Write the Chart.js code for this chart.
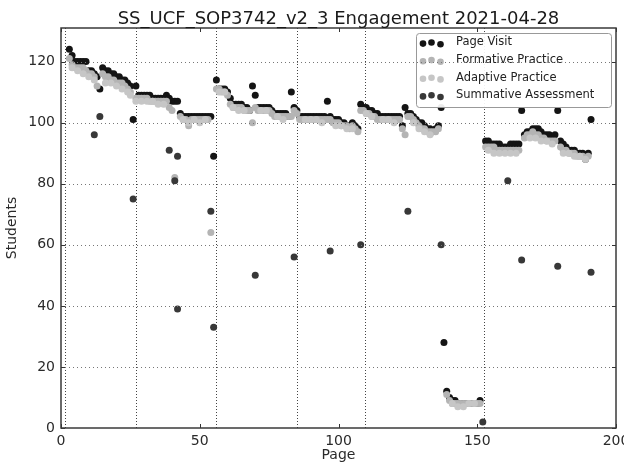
<!DOCTYPE html>
<html>
<head>
<meta charset="utf-8">
<script src="https://cdn.jsdelivr.net/npm/chart.js@4.4.0/dist/chart.umd.min.js"></script>
<style>
  html, body { margin: 0; padding: 0; background: #fff; }
</style>
</head>
<body>
<canvas id="c" width="624" height="467"></canvas>
<script>
// Engagement per page.

const chartTitle = 'SS_UCF_SOP3742_v2_3 Engagement 2021-04-28';
const xLabel = 'Page';
const yLabel = 'Students';
const xTicks = [0, 50, 100, 150, 200];
const yTicks = [0, 20, 40, 60, 80, 100, 120];
// chapter boundaries (dotted vertical lines)
const dividerPages = [1.6, 26.9, 55.8, 85, 109.6, 152.5];

const seriesNames = ['Page Visit', 'Formative Practice', 'Adaptive Practice', 'Summative Assessment'];
const seriesColors = ['#141414', '#b4b4b4', '#c6c6c6', '#383838'];

// page visits, one value per page starting at page 3
const pageVisitFirst = 3;
const pageVisit = [
  124, 122, 120, 120, 120, 120, 120, 117, 117, 116,
  115, 111, 118, 117, 117, 116, 116, 115, 115, 114,
  114, 113, 112, 101, 112, 109, 109, 109, 109, 109,
  108, 108, 108, 108, 108, 109, 108, 107, 107, 107,
  103, 102, 102, 102, 102, 102, 102, 102, 102, 102,
  102, 102, 89, 114, 111, 111, 111, 110, 108, 106,
  106, 106, 106, 105, 105, 104, 112, 109, 105, 105,
  105, 105, 105, 104, 103, 103, 103, 103, 103, 102,
  110, 105, 104, 102, 102, 102, 102, 102, 102, 102,
  102, 102, 102, 107, 102, 101, 101, 101, 100, 100,
  99, 99, 100, 99, 98, 106, 105, 105, 104, 104,
  103, 103, 102, 102, 102, 102, 102, 102, 102, 102,
  99, 105, 103, 103, 102, 101, 100, 100, 99, 98,
  98, 97, 98, 99, 105, 28, 12, 10, 9, 9,
  8, 8, 8, 8, 8, 8, 8, 8, 9, null,
  94, 94, 93, 93, 93, 93, 92, 92, 92, 93,
  93, 93, 93, 104, 96, 97, 97, 98, 98, 98,
  97, 96, 96, 96, 95, 96, 104, 94, 93, 92,
  91, 91, 91, 90, 90, 90, 88, 90, 101
];

// formative practice, starting at page 3
const formativeFirst = 3;
const formative = [
  121, 119, 118, 118, 118, 118, 117, 116, 116, 115,
  112, null, 116, 115, 115, 114, 114, 113, 113, 113,
  112, 111, 110, null, 108, 108, 108, 108, 108, 107,
  107, 107, 107, 107, 107, 107, 105, 104, 82, null,
  102, 101, 101, 99, 101, 101, 101, 101, 101, 101,
  101, 64, null, 111, 111, 110, 110, 109, 106, 105,
  105, 105, 105, 104, 104, 104, 100, 105, 104, 104,
  104, 104, 104, 103, 102, 102, 102, 102, 102, 102,
  102, 104, 103, 101, 101, 101, 101, 101, 101, 101,
  101, 101, 101, 101, 101, 100, 100, 100, 99, 99,
  99, 98, 99, 98, 97, 104, 104, 103, 103, 102,
  102, 101, 101, 101, 101, 101, 101, 101, 101, 101,
  98, 96, 102, 102, 101, 100, 99, 98, 98, 97,
  97, 97, 97, 98, null, null, 11, 9, 8, 8,
  8, 8, 8, 8, 8, 8, 8, 8, 8, null,
  92, 92, 92, 92, 91, 91, 91, 91, 91, 91,
  91, 91, 91, null, 95, 96, 96, 97, 96, 96,
  95, 95, 94, 94, 94, 94, null, 92, 91, 91,
  90, 90, 90, 89, 89, 89, 88, 89
];

const adaptivePages = [4, 6, 8, 10, 12, 16, 18, 20, 22, 24, 25, 27, 29, 31, 33, 35, 37, 44, 46, 48,
  50, 52, 57, 59, 62, 64, 66, 72, 74, 78, 80, 88, 90, 92, 94, 99, 101, 103, 105, 110,
  112, 116, 118, 120, 127, 129, 131, 133, 141, 143, 145, 147, 149, 154, 156, 158, 160, 162, 164, 169,
  171, 173, 175, 177, 181, 183, 185, 187, 189];
const adaptiveValues = [118, 117, 116, 115, 114, 113, 113, 112, 111, 110, 109, 107, 107, 107, 107, 106, 106, 101, 100, 101,
  100, 101, 110, 110, 105, 104, 104, 104, 104, 102, 101, 101, 101, 101, 100, 99, 99, 98, 98, 103,
  102, 101, 101, 100, 100, 98, 97, 96, 8, 7, 7, 8, 8, 91, 90, 90, 90, 90, 90, 95,
  95, 94, 94, 93, 90, 90, 89, 89, 88];

const summativePages = [12, 14, 26, 39, 41, 42, 42, 54, 55, 70, 84, 97, 108, 125, 137, 152, 161, 166, 179, 191];
const summativeValues = [96, 102, 75, 91, 81, 89, 39, 71, 33, 50, 56, 58, 60, 71, 60, 2, 81, 55, 53, 51];

const FONT = '"DejaVu Sans", sans-serif';

function fromRun(first, vals) {
  const out = [];
  vals.forEach((v, i) => { if (v !== null) out.push({ x: first + i, y: v }); });
  return out;
}
function fromPairs(pages, vals) {
  return pages.map((p, i) => ({ x: p, y: vals[i] }));
}

const seriesData = [
  fromRun(pageVisitFirst, pageVisit),
  fromRun(formativeFirst, formative),
  fromPairs(adaptivePages, adaptiveValues),
  fromPairs(summativePages, summativeValues)
];

// matplotlib-ish decorations: dotted dividers, grid, inward ticks, frame, legend, titles
const decorations = {
  id: 'decorations',
  beforeDatasetsDraw(chart) {
    const { ctx, chartArea: a, scales: { x } } = chart;
    ctx.save();
    ctx.strokeStyle = '#444';
    ctx.lineWidth = 1;
    ctx.setLineDash([1, 2]);
    dividerPages.forEach(p => {
      const px = Math.round(x.getPixelForValue(p)) + 0.5;
      ctx.beginPath();
      ctx.moveTo(px, a.top);
      ctx.lineTo(px, a.bottom);
      ctx.stroke();
    });
    ctx.restore();
  },
  afterDatasetsDraw(chart) {
    const { ctx, chartArea: a, scales: { x, y } } = chart;
    ctx.save();

    // legend
    const lx = a.right - 200, ly = a.top + 5, lw = 195, lh = 74;
    ctx.fillStyle = 'rgba(255,255,255,0.92)';
    ctx.strokeStyle = '#999';
    ctx.lineWidth = 1;
    ctx.beginPath();
    ctx.roundRect(lx + 0.5, ly + 0.5, lw, lh, 3);
    ctx.fill();
    ctx.stroke();
    const offs = [1.1, 0, 1.7];
    ctx.font = '11.5px ' + FONT;
    ctx.textBaseline = 'middle';
    ctx.textAlign = 'left';
    seriesNames.forEach((name, i) => {
      const cy = ly + 9.5 + i * 17.6;
      [7, 15.5, 24.5].forEach((dx, k) => {
        ctx.fillStyle = seriesColors[i];
        ctx.beginPath();
        ctx.arc(lx + dx, cy + offs[k], 3.3, 0, Math.PI * 2);
        ctx.fill();
      });
      ctx.fillStyle = '#222';
      ctx.fillText(name, lx + 40, cy);
    });

    // horizontal grid
    ctx.strokeStyle = '#777';
    ctx.setLineDash([1, 3]);
    yTicks.forEach(v => {
      if (v === 0) return;
      const py = Math.round(y.getPixelForValue(v)) + 0.5;
      ctx.beginPath();
      ctx.moveTo(a.left, py);
      ctx.lineTo(a.right, py);
      ctx.stroke();
    });
    ctx.setLineDash([]);

    // inward ticks on all four sides
    ctx.strokeStyle = '#333';
    ctx.lineWidth = 1;
    xTicks.forEach(v => {
      const px = Math.round(x.getPixelForValue(v)) + 0.5;
      ctx.beginPath();
      ctx.moveTo(px, a.bottom); ctx.lineTo(px, a.bottom - 4);
      ctx.moveTo(px, a.top); ctx.lineTo(px, a.top + 4);
      ctx.stroke();
    });
    yTicks.forEach(v => {
      const py = Math.round(y.getPixelForValue(v)) + 0.5;
      ctx.beginPath();
      ctx.moveTo(a.left, py); ctx.lineTo(a.left + 4, py);
      ctx.moveTo(a.right, py); ctx.lineTo(a.right - 4, py);
      ctx.stroke();
    });

    // frame
    ctx.strokeStyle = '#3a3a3a';
    ctx.lineWidth = 1.5;
    ctx.strokeRect(a.left, a.top, a.right - a.left, a.bottom - a.top);

    // titles
    ctx.fillStyle = '#1a1a1a';
    ctx.textAlign = 'center';
    ctx.textBaseline = 'alphabetic';
    ctx.font = '18px ' + FONT;
    ctx.fillText(chartTitle, (a.left + a.right) / 2, 24);
    ctx.fillStyle = '#2a2a2a';
    ctx.font = '14px ' + FONT;
    ctx.textBaseline = 'middle';
    ctx.fillText(xLabel, (a.left + a.right) / 2, 455);
    ctx.translate(12, (a.top + a.bottom) / 2);
    ctx.rotate(-Math.PI / 2);
    ctx.fillText(yLabel, 0, 0);
    ctx.restore();
  }
};

const datasets = seriesNames.map((name, i) => ({
  label: name,
  data: seriesData[i],
  backgroundColor: seriesColors[i],
  borderWidth: 0,
  pointRadius: 3.5,
  order: 4 - i
}));

new Chart(document.getElementById('c'), {
  type: 'scatter',
  data: { datasets },
  options: {
    responsive: false,
    animation: false,
    events: [],
    layout: { padding: { top: 28, right: 8, left: 0, bottom: 0 } },
    plugins: {
      legend: { display: false },
      tooltip: { enabled: false },
      title: { display: false }
    },
    scales: {
      x: {
        type: 'linear', min: 0, max: 200,
        grid: { display: false, drawTicks: false },
        border: { display: false },
        afterBuildTicks: s => { s.ticks = xTicks.map(v => ({ value: v })); },
        afterFit: s => { s.height = 39; s.paddingLeft = 0; s.paddingRight = 0; },
        ticks: { font: { family: FONT, size: 14 }, color: '#2a2a2a', padding: 5, maxRotation: 0, autoSkip: false }
      },
      y: {
        type: 'linear', min: 0, max: 131,
        grid: { display: false, drawTicks: false },
        border: { display: false },
        afterBuildTicks: s => { s.ticks = yTicks.map(v => ({ value: v })); },
        afterFit: s => { s.width = 61; s.paddingTop = 0; s.paddingBottom = 0; },
        ticks: { font: { family: FONT, size: 14 }, color: '#2a2a2a', padding: 6 }
      }
    }
  },
  plugins: [decorations]
});
</script>
</body>
</html>
